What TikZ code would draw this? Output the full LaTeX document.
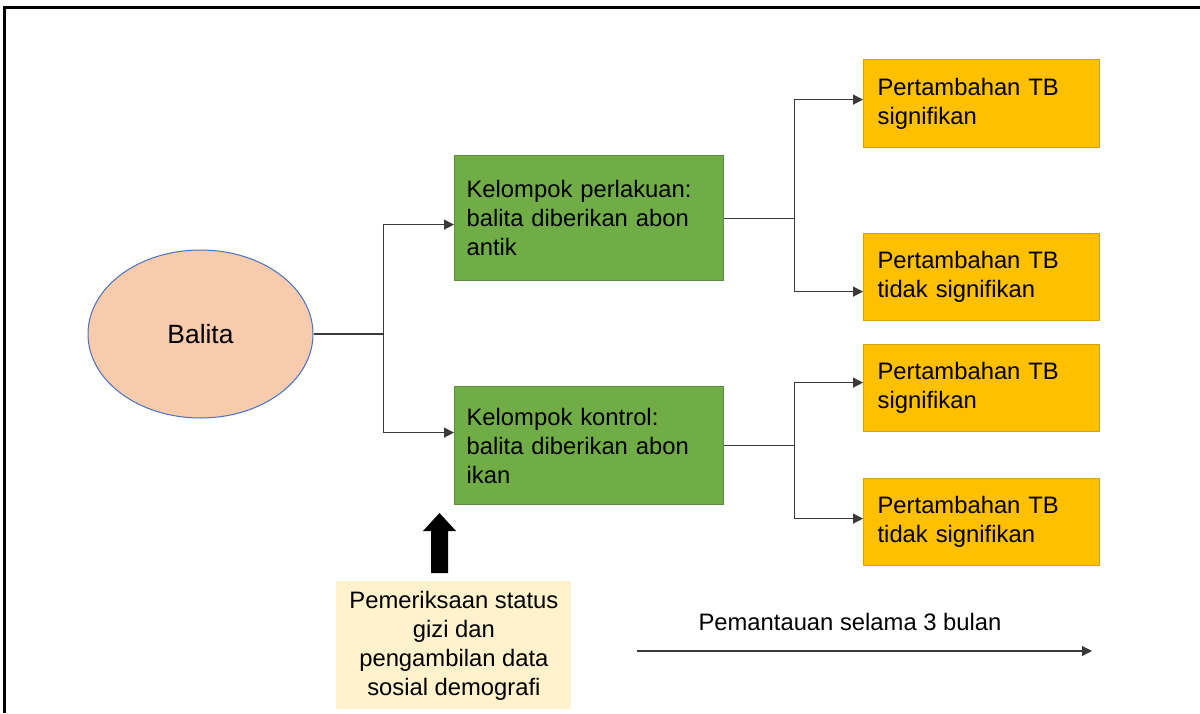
\documentclass[tikz,border=0pt]{standalone}
\usepackage{fontspec}
\setmainfont{Liberation Sans}
\usetikzlibrary{shapes.geometric,arrows.meta}

\definecolor{balitafill}{HTML}{F8CBAD}
\definecolor{balitaline}{HTML}{4472C4}
\definecolor{grpfill}{HTML}{70AD47}
\definecolor{grpline}{HTML}{5A9138}
\definecolor{tbfill}{HTML}{FFC000}
\definecolor{tbline}{HTML}{D4A017}
\definecolor{periksafill}{HTML}{FFF2CC}
\definecolor{connline}{HTML}{3A3A3A}

\tikzset{
	txt/.style={font=\fontsize{11.9}{14.5}\selectfont},
	grp/.style={txt, draw=grpline, fill=grpfill, line width=.6pt, anchor=north west,
		align=left, inner xsep=6pt, text width=122.5pt, minimum width=134.5pt},
	tb/.style={txt, draw=tbline, fill=tbfill, line width=.6pt, anchor=north west,
		align=left, inner xsep=7pt, text width=104pt, minimum width=118pt, minimum height=43.5pt},
	arr/.style={-{Triangle[length=5pt,width=5pt]}, draw=connline, line width=.6pt},
	conn/.style={draw=connline, line width=.6pt}
}

\begin{document}
\begin{tikzpicture}[x=0.5pt,y=-0.5pt]

	\useasboundingbox (0,0) rectangle (1200,713);

	% frame
	\draw[line width=1.5pt] (4.5,713) -- (4.5,7.5) -- (1200,7.5);

	\node[ellipse, draw=balitaline, fill=balitafill, line width=.5pt, inner sep=0pt,
		minimum width=112.5pt, minimum height=84pt, font=\fontsize{13.2}{16}\selectfont]
		(balita) at (200.5,334) {Balita};

	\node[grp, minimum height=62.5pt] (perlakuan) at (454,155)
		{Kelompok perlakuan:\\balita diberikan abon\\antik};
	\node[grp, minimum height=59pt] (kontrol) at (454,386)
		{Kelompok kontrol:\\balita diberikan abon\\ikan};

	\node[tb, minimum height=44pt] (sigA) at (863,59) {Pertambahan TB\\signifikan};
	\node[tb] (nsigA) at (863,233) {Pertambahan TB\\tidak signifikan};
	\node[tb] (sigB) at (863,344) {Pertambahan TB\\signifikan};
	\node[tb] (nsigB) at (863,478) {Pertambahan TB\\tidak signifikan};

	\node[txt, fill=periksafill, anchor=north west, align=center, inner sep=0pt,
		minimum width=117.5pt, minimum height=64pt] (periksa) at (336,581)
		{Pemeriksaan status\\gizi dan\\pengambilan data\\sosial demografi};

	\node[txt] (pantau) at (850,622) {Pemantauan selama 3 bulan};

	% forks
	\coordinate (forkB) at ([xshift=35pt]balita.east);
	\coordinate (forkP) at ([xshift=35pt]perlakuan.east);
	\coordinate (forkK) at ([xshift=35pt]kontrol.east);

	\draw[conn] (balita.east) -- (forkB);
	\draw[arr] (forkB) |- ([yshift=-3.25pt]perlakuan.west);
	\draw[arr] (forkB) |- ([yshift=6.5pt]kontrol.west);

	\draw[conn] (perlakuan.east) -- (forkP);
	\draw[arr] (forkP) |- ([yshift=2pt]sigA.west);
	\draw[arr] (forkP) |- ([yshift=-7.25pt]nsigA.west);

	\draw[conn] (kontrol.east) -- (forkK);
	\draw[arr] (forkK) |- ([yshift=2.75pt]sigB.west);
	\draw[arr] (forkK) |- ([yshift=1.75pt]nsigB.west);

	% up arrow
	\fill (431,573) -- (431,531) -- (423,531) -- (439.5,513) -- (456,531) -- (448,531) -- (448,573) -- cycle;

	% timeline
	\coordinate (tstart) at (637,651);
	\coordinate (tend) at (1092,651);
	\draw[arr] (tstart) -- (tend);

\end{tikzpicture}
\end{document}
